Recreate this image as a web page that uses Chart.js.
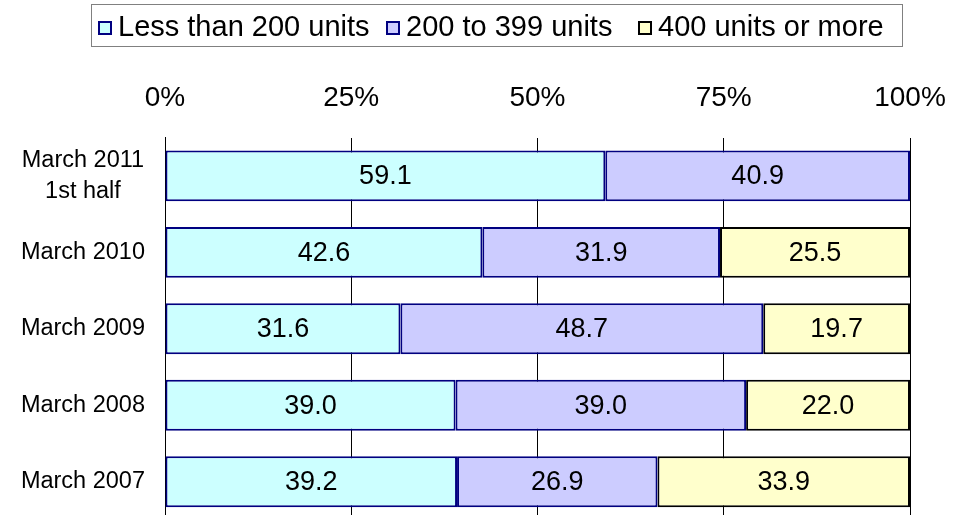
<!DOCTYPE html>
<html>
<head>
<meta charset="utf-8">
<script src="https://cdn.jsdelivr.net/npm/chart.js@4"></script>
<style>
  html, body { margin: 0; padding: 0; overflow: hidden; background: #fff; }
  canvas { display: block; }
</style>
</head>
<body>
<canvas id="chart" width="973" height="521" style="width:973px;height:521px"></canvas>
<script>
const categories = [['March 2011', '1st half'], 'March 2010', 'March 2009', 'March 2008', 'March 2007'];
const seriesNames = ['Less than 200 units', '200 to 399 units', '400 units or more'];
const lessThan200 = [59.1, 42.6, 31.6, 39.0, 39.2];
const from200to399 = [40.9, 31.9, 48.7, 39.0, 26.9];
const over400 = [null, 25.5, 19.7, 22.0, 33.9];
const tickValues = [0, 25, 50, 75, 100];

const FONT = "'Liberation Sans', Arial, sans-serif";
const fills = ['#CCFFFF', '#CCCCFF', '#FFFFCC'];
const borders = ['#000080', '#000080', '#000000'];

// values written in the middle of each segment
const barLabels = {
    id: 'barLabels',
    afterDatasetsDraw(chart) {
        const ctx = chart.ctx;
        ctx.save();
        ctx.font = '27px ' + FONT;
        ctx.fillStyle = '#000';
        ctx.textAlign = 'center';
        ctx.textBaseline = 'middle';
        chart.data.datasets.forEach((ds, i) => {
            chart.getDatasetMeta(i).data.forEach((el, j) => {
                const v = ds.data[j];
                if (v == null) return;
                ctx.fillText(v.toFixed(1), (el.x + el.base) / 2, el.y + 1);
            });
        });
        ctx.restore();
    }
};

// boxed legend at the top, like the original
const boxLegend = {
    id: 'boxLegend',
    afterDraw(chart) {
        const ctx = chart.ctx;
        const mark = 14;
        const markerX = [98, 386, 638];
        ctx.save();
        ctx.font = '29px ' + FONT;
        ctx.strokeStyle = '#808080';
        ctx.lineWidth = 1;
        ctx.strokeRect(91.5, 4.5, 811, 42);
        const cy = 28;
        ctx.textBaseline = 'alphabetic';
        ctx.textAlign = 'left';
        seriesNames.forEach((n, i) => {
            const x = markerX[i];
            ctx.fillStyle = fills[i];
            ctx.fillRect(x, cy - mark / 2, mark, mark);
            ctx.strokeStyle = borders[i];
            ctx.lineWidth = 2;
            ctx.strokeRect(x + 1, cy - mark / 2 + 1, mark - 2, mark - 2);
            ctx.fillStyle = '#000';
            ctx.fillText(n, x + 20, 36);
        });
        ctx.restore();
    }
};

new Chart(document.getElementById('chart'), {
    type: 'bar',
    data: {
        labels: categories,
        datasets: [lessThan200, from200to399, over400].map((d, i) => ({
            label: seriesNames[i],
            data: d,
            backgroundColor: fills[i],
            borderColor: borders[i],
            borderWidth: 2,
            borderSkipped: false,
            barPercentage: 0.665,
            categoryPercentage: 1
        }))
    },
    options: {
        indexAxis: 'y',
        responsive: false,
        animation: false,
        layout: { padding: { top: 58, left: 0, right: 63, bottom: 1 } },
        plugins: {
            legend: { display: false },
            tooltip: { enabled: false }
        },
        scales: {
            x: {
                position: 'top',
                stacked: true,
                min: 0,
                max: 100,
                afterBuildTicks: axis => { axis.ticks = tickValues.map(v => ({ value: v })); },
                afterFit: axis => { axis.paddingLeft = 0; axis.paddingRight = 0; },
                ticks: {
                    callback: v => v + '%',
                    color: '#000',
                    font: { family: FONT, size: 28 },
                    padding: 23,
                    maxRotation: 0
                },
                grid: { color: '#000', lineWidth: 1, drawTicks: false },
                border: { display: false }
            },
            y: {
                stacked: true,
                afterFit: axis => { axis.width = 165; axis.paddingTop = 0; axis.paddingBottom = 0; },
                ticks: {
                    color: '#000',
                    font: { family: FONT, size: 23.5, lineHeight: 1.3 },
                    crossAlign: 'center',
                    autoSkip: false,
                    padding: 20
                },
                grid: { display: false, drawTicks: false },
                border: { display: true, color: '#000', width: 1 }
            }
        }
    },
    plugins: [barLabels, boxLegend]
});
</script>
</body>
</html>
